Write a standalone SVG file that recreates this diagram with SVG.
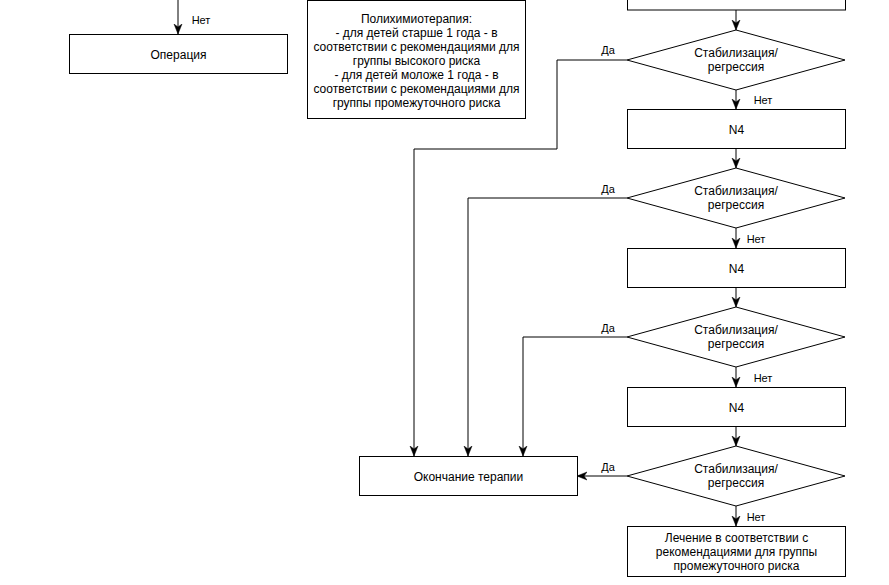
<svg xmlns="http://www.w3.org/2000/svg" width="889" height="585" viewBox="0 0 889 585">
<style>
  .box { fill: #ffffff; stroke: #000000; stroke-width: 1; }
  .edge { fill: none; stroke: #000000; stroke-width: 1; }
  text { font-family: "Liberation Sans", Arial, Helvetica, sans-serif; font-size: 12px; fill: #000000; }
  .c { text-anchor: middle; }
  .lbl { font-size: 11px; text-anchor: middle; }
</style>
<defs>
  <marker id="arrow" markerUnits="userSpaceOnUse" markerWidth="10" markerHeight="10" viewBox="0 0 10 10" refX="10" refY="5" orient="auto">
    <path d="M0,1 L10,5 L0,9 L3,5 z" fill="#000000" stroke="#000000" stroke-width="0.5"/>
  </marker>
</defs>
<rect width="889" height="585" fill="#ffffff"/>

<g id="connectors">
  <path class="edge" d="M178,0 L178,34" marker-end="url(#arrow)"/>
  <path class="edge" d="M736,10 L736,30" marker-end="url(#arrow)"/>
  <path class="edge" d="M627,60 L557,60 L557,149 L414,149 L414,456" marker-end="url(#arrow)"/>
  <path class="edge" d="M736,90 L736,109" marker-end="url(#arrow)"/>
  <path class="edge" d="M736,149 L736,168" marker-end="url(#arrow)"/>
  <path class="edge" d="M627,198 L468,198 L468,456" marker-end="url(#arrow)"/>
  <path class="edge" d="M736,228 L736,248" marker-end="url(#arrow)"/>
  <path class="edge" d="M736,288 L736,307" marker-end="url(#arrow)"/>
  <path class="edge" d="M627,337 L523,337 L523,456" marker-end="url(#arrow)"/>
  <path class="edge" d="M736,367 L736,387" marker-end="url(#arrow)"/>
  <path class="edge" d="M736,427 L736,446" marker-end="url(#arrow)"/>
  <path class="edge" d="M627,476 L577,476" marker-end="url(#arrow)"/>
  <path class="edge" d="M736,506 L736,526" marker-end="url(#arrow)"/>
  <text class="lbl" x="201" y="24">Нет</text>
  <text class="lbl" x="608" y="54">Да</text>
  <text class="lbl" x="763" y="104">Нет</text>
  <text class="lbl" x="608" y="193">Да</text>
  <text class="lbl" x="756" y="243">Нет</text>
  <text class="lbl" x="608" y="332">Да</text>
  <text class="lbl" x="763" y="382">Нет</text>
  <text class="lbl" x="608" y="471">Да</text>
  <text class="lbl" x="756" y="521">Нет</text>
</g>

<g id="operation">
  <rect class="box" x="69.5" y="34.5" width="218" height="39"/>
  <text class="c" x="178.5" y="58.5">Операция</text>
</g>

<g id="chemo">
  <rect class="box" x="307.5" y="0.5" width="218" height="118"/>
  <text class="c" x="416.5" y="22.5">Полихимиотерапия:</text>
  <text class="c" x="416.5" y="36.5">- для детей старше 1 года - в</text>
  <text class="c" x="416.5" y="50.5">соответствии с рекомендациями для</text>
  <text class="c" x="416.5" y="64.5">группы высокого риска</text>
  <text class="c" x="416.5" y="78.5">- для детей моложе 1 года - в</text>
  <text class="c" x="416.5" y="92.5">соответствии с рекомендациями для</text>
  <text class="c" x="416.5" y="106.5">группы промежуточного риска</text>
</g>

<g id="top-box">
  <rect class="box" x="627.5" y="-30.5" width="218" height="40.5"/>
</g>

<g id="decision1">
  <polygon class="box" points="736,30 845,60 736,90 627,60"/>
  <text class="c" x="736" y="56.5">Стабилизация/</text>
  <text class="c" x="736" y="71">регрессия</text>
</g>

<g id="n4-1">
  <rect class="box" x="627.5" y="109.5" width="218" height="39"/>
  <text class="c" x="736.5" y="133.5">N4</text>
</g>

<g id="decision2">
  <polygon class="box" points="736,168 845,198 736,228 627,198"/>
  <text class="c" x="736" y="194.5">Стабилизация/</text>
  <text class="c" x="736" y="209">регрессия</text>
</g>

<g id="n4-2">
  <rect class="box" x="627.5" y="248.5" width="218" height="39"/>
  <text class="c" x="736.5" y="272.5">N4</text>
</g>

<g id="decision3">
  <polygon class="box" points="736,307 845,337 736,367 627,337"/>
  <text class="c" x="736" y="333.5">Стабилизация/</text>
  <text class="c" x="736" y="348">регрессия</text>
</g>

<g id="n4-3">
  <rect class="box" x="627.5" y="387.5" width="218" height="39"/>
  <text class="c" x="736.5" y="411.5">N4</text>
</g>

<g id="decision4">
  <polygon class="box" points="736,446 845,476 736,506 627,476"/>
  <text class="c" x="736" y="472.5">Стабилизация/</text>
  <text class="c" x="736" y="487">регрессия</text>
</g>

<g id="end-therapy">
  <rect class="box" x="359.5" y="456.5" width="218" height="39"/>
  <text class="c" x="468.5" y="480.5">Окончание терапии</text>
</g>

<g id="intermediate">
  <rect class="box" x="627.5" y="526.5" width="218" height="50"/>
  <text class="c" x="736.5" y="541.5">Лечение в соответствии с</text>
  <text class="c" x="736.5" y="555.5">рекомендациями для группы</text>
  <text class="c" x="736.5" y="569.5">промежуточного риска</text>
</g>
</svg>
